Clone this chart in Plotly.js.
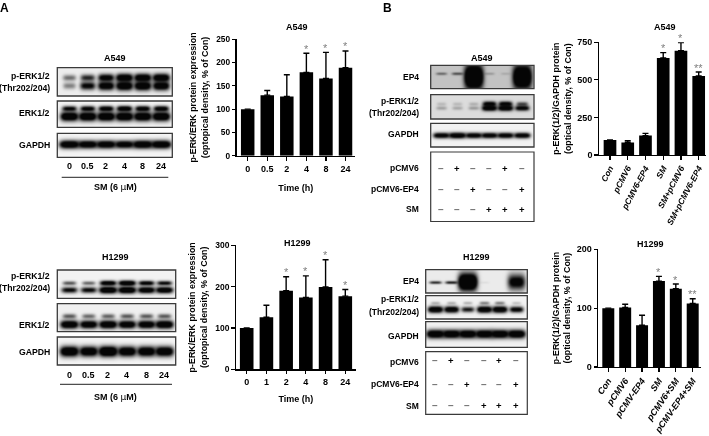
<!DOCTYPE html>
<html><head><meta charset="utf-8">
<script src="https://cdn.plot.ly/plotly-3.0.1.min.js"></script>
<style>html,body{margin:0;padding:0;background:#fff}#c{width:709px;height:436px;filter:blur(.3px)}</style>
</head><body><div id="c"></div>
<script>
// ---------- bar chart data ----------
const a549TimeCats = ['0','0.5','2','4','8','24'];
const a549TimeVals = [100,130,127,179,166,189];
const a549TimeErrs = [0,10,47,41,56,36];
const a549TimeStars = ['','','','*','*','*'];

const h1299TimeCats = ['0','1','2','4','8','24'];
const h1299TimeVals = [100,126,190,174,199,177];
const h1299TimeErrs = [0,29,34,52,66,16];
const h1299TimeStars = ['','','*','*','*','*'];

const a549EpCats = ['Con','pCMV6','pCMV6-EP4','SM','SM+pCMV6','SM+pCMV6-EP4'];
const a549EpVals = [100,84,129,646,694,526];
const a549EpErrs = [0,11,15,35,54,26];
const a549EpStars = ['','','','*','*','**'];

const h1299EpCats = ['Con','pCMV6','pCMV-EP4','SM','pCMV6+SM','pCMV-EP4+SM'];
const h1299EpVals = [100,101,71,146,133,108];
const h1299EpErrs = [0,5.5,17,8,8,8];
const h1299EpStars = ['','','','*','*','**'];

const blotTimeLabels = ['0','0.5','2','4','8','24'];

// ---------- blot band intensities (per lane) ----------
const a549TimePerkTop = [.38,.6,.85,1,1,1];
const a549TimePerkLow = [.32,.75,.92,1,1,.95];
const a549TimeErkTop = [.75,.8,.85,.9,.85,.85];
const a549TimeErkLow = [1,1,1,1,1,1];
const a549TimeGapdh = [1,.95,.95,.9,1,1];
const h1299TimePerkTop = [.45,.4,.9,1,.8,.7];
const h1299TimePerkLow = [.7,.7,1,1,.9,.9];
const h1299TimeErkTop = [.45,.4,.42,.45,.45,.45];
const h1299TimeErkLow = [1,.95,1,.95,.95,1];
const h1299TimeGapdh = [1,.95,1.1,.95,.95,.95];
const a549EpFaint = [.4,.5,0,.2,.12,0];
const a549EpBlob = [0,0,1.3,0,0,1.2];
const a549EpPerkTop = [.12,.12,.15,.9,.9,.5];
const a549EpPerkLow = [.2,.18,.22,1,1,.85];
const a549EpGapdh = [.9,1,.9,.9,.9,.9];
const h1299EpFaint = [.65,.7,0,.05,0,0];
const h1299EpBlob = [0,0,1.3,0,0,.8];
const h1299EpPerkTop = [.2,.2,.2,.35,.35,.15];
const h1299EpPerkLow = [1,.95,.65,1,1,.8];
const h1299EpGapdh = [1,1,1,1,1,1];

// ---------- sign table ----------
const signPcmv = ['–','+','–','–','+','–'];
const signEp4  = ['–','–','+','–','–','+'];
const signSm   = ['–','–','–','+','+','+'];

// ---------- layout geometry (page pixels) ----------
const W = 709, H = 436;
const FONT = 'Liberation Sans, Arial, sans-serif';
const TXT = '#000';
const traces = [], shapes = [], annotations = [];
const layout = {
  width: W, height: H, margin: {l:0,r:0,t:0,b:0}, showlegend: false,
  paper_bgcolor: '#fff', plot_bgcolor: 'rgba(0,0,0,0)',
  font: {family: FONT, color: TXT, size: 9, weight: 700},
  xaxis: {domain:[0,1], range:[0,W], visible:false, fixedrange:true},
  yaxis: {domain:[0,1], range:[H,0], visible:false, fixedrange:true},
  shapes, annotations
};

function text(x, y, t, o) {
  annotations.push(Object.assign({xref:'x', yref:'y', x, y, text:t, showarrow:false,
    xanchor:'center', yanchor:'middle',
    font:{family:FONT, size:9, color:TXT, weight:700}}, o||{}));
}
function right(x, y, t, fs) { text(x, y, t, {xanchor:'right', font:{family:FONT,size:fs||8.7,color:TXT,weight:700}}); }

// Draw a blot as a heatmap; bands are rendered soft around each lane centre.
function blot(x0, x1, y0, y1, lanes, bg, bands) {
  const w = Math.round(x1-x0), h = Math.round(y1-y0), z = [];
  for (let r=0;r<h;r++) {
    const row=[];
    for (let c=0;c<w;c++) {
      const px=x0+c+.5, py=y0+r+.5;
      let light=1-bg;
      bands.forEach(b=>{
        b.v.forEach((v,i)=>{
          if(!v) return;
          const s=Math.min(v,1);
          const hx=b.w*(.62+.38*s), hy=b.h*(.55+.45*s);
          const dx=(px-lanes[i])/hx, dy=(py-b.y)/hy;
          const d=Math.min(1,Math.max(v,s)*1.5*Math.exp(-dx*dx*dx*dx-dy*dy));
          light*=1-d;
        });
      });
      row.push(1-light);
    }
    z.push(row);
  }
  traces.push({type:'heatmap', xaxis:'x', yaxis:'y', z, x0:x0+.5, dx:1, y0:y0+.5, dy:1,
    zmin:0, zmax:1, showscale:false, hoverinfo:'skip', zsmooth:'best',
    colorscale:[[0,'#ffffff'],[1,'#050505']]});
  shapes.push({type:'rect', xref:'x', yref:'y', x0, x1, y0, y1,
    line:{color:'#3a3a3a', width:1.3}, fillcolor:'rgba(0,0,0,0)'});
}
function signTable(x0,x1,y0,y1,lanes,rows,ys) {
  shapes.push({type:'rect', xref:'x', yref:'y', x0, x1, y0, y1, line:{color:'#3a3a3a', width:1.2}, fillcolor:'rgba(0,0,0,0)'});
  rows.forEach((row,r)=>row.forEach((s,i)=>text(lanes[i], ys[r], s, {font:{family:FONT,size:s==='+'?9.5:10,color:s==='+'?'#000':'#777',weight:700}})));
}

// ---------- left blots ----------
text(4.5, 8, 'A', {font:{family:FONT,size:12,color:'#000',weight:700}});
text(387.5, 8, 'B', {font:{family:FONT,size:12,color:'#000',weight:700}});

const l1=[69,87.3,105.7,124,142.3,160.7];
text(114.5,58,'A549');
blot(57.3,172.3,67.7,96,l1,.07,[{y:77.3,h:4,w:8.5,v:a549TimePerkTop},{y:85.3,h:4.5,w:8.5,v:a549TimePerkLow}]);
blot(57.3,172.3,101,127.3,l1,.05,[{y:108.3,h:3,w:8,v:a549TimeErkTop},{y:116,h:4.6,w:9,v:a549TimeErkLow}]);
blot(57.3,172.3,133.3,157.3,l1,.04,[{y:144,h:4,w:10,v:a549TimeGapdh}]);
right(52,76,'p-ERK1/2'); right(52,88,'(Thr202/204)'); right(52,113.3,'ERK1/2'); right(52,145,'GAPDH');
blotTimeLabels.forEach((c,i)=>text(l1[i],166,c));
shapes.push({type:'line',xref:'x',yref:'y',x0:61.7,x1:168.3,y0:177.3,y1:177.3,line:{color:'#222',width:1}});
text(115,187,'SM (6 <span style="font-family:DejaVu Sans;font-weight:400">μ</span>M)');

const l2=[69,88.3,107.7,126.7,146,164];
text(115.7,257.3,'H1299');
blot(57.3,175.7,270,298.3,l2,.05,[{y:282.7,h:2.6,w:8.5,v:h1299TimePerkTop},{y:289.6,h:3.4,w:9,v:h1299TimePerkLow}]);
blot(57.3,175.7,303.7,331.7,l2,.06,[{y:315.7,h:3,w:8.5,v:h1299TimeErkTop},{y:324,h:4,w:9,v:h1299TimeErkLow}]);
blot(57.3,175.7,337,365,l2,.04,[{y:351,h:5.2,w:9.5,v:h1299TimeGapdh}]);
right(52,275.7,'p-ERK1/2'); right(52,288.3,'(Thr202/204)'); right(52,325,'ERK1/2'); right(52,352.3,'GAPDH');
blotTimeLabels.forEach((c,i)=>text(l2[i],375,c));
shapes.push({type:'line',xref:'x',yref:'y',x0:60,x1:172,y0:384.3,y1:384.3,line:{color:'#222',width:1}});
text(115.7,397,'SM (6 <span style="font-family:DejaVu Sans;font-weight:400">μ</span>M)');

// ---------- right blots ----------
const l3=[441,457,473.3,489,505,521.7];
text(481.7,58.3,'A549');
blot(430.7,534,65.3,88.7,l3,.24,[{y:73.3,h:1.5,w:7,v:a549EpFaint},{y:76.5,h:12,w:9.5,v:a549EpBlob}]);
blot(430.7,534,94.7,119,l3,.14,[{y:103.5,h:2.6,w:7,v:a549EpPerkTop},{y:107.6,h:2.7,w:7.5,v:a549EpPerkLow}]);
blot(430.7,534,123.3,147,l3,.05,[{y:135,h:2.8,w:8.5,v:a549EpGapdh}]);
right(421,76.7,'EP4',8.5); right(421,100.7,'p-ERK1/2',8.5); right(421,113.3,'(Thr202/204)',8.5); right(421,134.3,'GAPDH',8.5);
right(421,168.3,'pCMV6',8.5); right(421,188.7,'pCMV6-EP4',8.5); right(421,209,'SM',8.5);
signTable(430.7,534,152,221.5,l3,[signPcmv,signEp4,signSm],[168,189,209.3]);

const l4=[435,451,467.3,484,499.3,516];
text(476.7,257.3,'H1299');
blot(425.7,527.3,269.7,293,l4,.08,[{y:282,h:1.5,w:7,v:h1299EpFaint},{y:281.5,h:8.5,w:9.5,v:h1299EpBlob}]);
blot(425.7,527.3,295.7,319,l4,.05,[{y:302.5,h:2,w:6.5,v:h1299EpPerkTop},{y:309,h:3.2,w:7.5,v:h1299EpPerkLow}]);
blot(425.7,527.3,321.7,347.3,l4,.05,[{y:333.5,h:4.2,w:9,v:h1299EpGapdh}]);
right(421,280.7,'EP4',8.5); right(421,299.3,'p-ERK1/2',8.5); right(421,312.3,'(Thr202/204)',8.5); right(421,336,'GAPDH',8.5);
right(421,362.3,'pCMV6',8.5); right(421,384.3,'pCMV6-EP4',8.5); right(421,405.7,'SM',8.5);
signTable(425.7,527.3,351.7,414.3,l4,[signPcmv,signEp4,signSm],[360.7,384,405]);

// ---------- bar charts ----------
function barChart(n, o) {
  const xn='x'+n, yn='y'+n;
  const spacing=(o.cN-o.c0)/5;
  traces.push({type:'bar', xaxis:xn, yaxis:yn, x:o.cats, y:o.vals, width:o.bw,
    marker:{color:'#000', line:{width:0}},
    error_y:{type:'data', symmetric:false, array:o.errs, arrayminus:o.errs.map(()=>0), color:'#000', thickness:1.4, width:3},
    hoverinfo:'skip'});
  o.stars.forEach((s,i)=>{ if(!s) return;
    annotations.push({xref:xn, yref:yn, x:i, y:o.vals[i]+o.errs[i], text:s, showarrow:false,
      yanchor:'middle', yshift:4.5, font:{family:FONT,size:11,color:'#808080',weight:400}});
  });
  layout['xaxis'+n]={domain:[o.xl/W,o.xr/W], anchor:yn, type:'category', categoryorder:'array', categoryarray:o.cats,
    range:[(o.xl-o.c0)/spacing,(o.xr-o.c0)/spacing], showgrid:false, zeroline:false, showline:true, linecolor:'#000', linewidth:1.3,
    ticks:'outside', ticklen:3.7, tickwidth:1.2, tickcolor:'#000', tickangle:o.angle||0, fixedrange:true,
    tickfont:{family:FONT,size:o.tfs||9,color:TXT,weight:700,style:o.angle?'italic':'normal'},
    title:o.xtitle?{text:o.xtitle,standoff:o.xso||8,font:{family:FONT,size:9,color:TXT,weight:700}}:undefined};
  layout['yaxis'+n]={domain:[(H-o.y0)/H,(H-o.yT)/H], anchor:xn, range:[0,o.ymax], tickvals:o.ticks, showgrid:false, zeroline:false,
    showline:true, linecolor:'#000', linewidth:1.3, ticks:'outside', ticklen:3.5, tickwidth:1.2, tickcolor:'#000', fixedrange:true,
    tickfont:{family:FONT,size:o.ytfs||9,color:TXT,weight:700},
    title:{text:o.ytitle,standoff:o.yso||4,font:{family:FONT,size:8.9,color:TXT,weight:700}}};
}
const yA='p-ERK/ERK protein expression<br>(optopical density, % of Con)';
const yB='p-ERK(1/2)/GAPDH protein<br>(optical density, % of Con)';
barChart(2,{cats:a549TimeCats,vals:a549TimeVals,errs:a549TimeErrs,stars:a549TimeStars,c0:247.7,cN:345.5,xl:236.5,xr:355,y0:155.7,yT:39.3,ymax:250,ticks:[0,50,100,150,200,250],bw:.69,xtitle:'Time (h)',xso:12,ytfs:8.3,yso:6,ytitle:yA});
barChart(3,{cats:h1299TimeCats,vals:h1299TimeVals,errs:h1299TimeErrs,stars:h1299TimeStars,c0:246.7,cN:345.3,xl:236,xr:355.7,y0:369.3,yT:245.3,ymax:300,ticks:[0,100,200,300],bw:.69,xtitle:'Time (h)',xso:9,ytfs:8.5,yso:6,ytitle:yA});
barChart(4,{cats:a549EpCats,vals:a549EpVals,errs:a549EpErrs,stars:a549EpStars,c0:610,cN:698.7,xl:599,xr:705.7,y0:155,yT:42.3,ymax:750,ticks:[0,250,500,750],bw:.715,angle:-62,ytitle:yB,tfs:8.5});
barChart(5,{cats:h1299EpCats,vals:h1299EpVals,errs:h1299EpErrs,stars:h1299EpStars,c0:608.3,cN:692.7,xl:598.3,xr:700.7,y0:367,yT:249.3,ymax:200,ticks:[0,100,200],bw:.71,angle:-55,ytitle:yB,tfs:9});
text(296.7,26.7,'A549'); text(297.7,243.3,'H1299'); text(665,27.3,'A549'); text(650,244,'H1299');

Plotly.newPlot('c', traces, layout, {displayModeBar:false, staticPlot:true});
</script></body></html>
